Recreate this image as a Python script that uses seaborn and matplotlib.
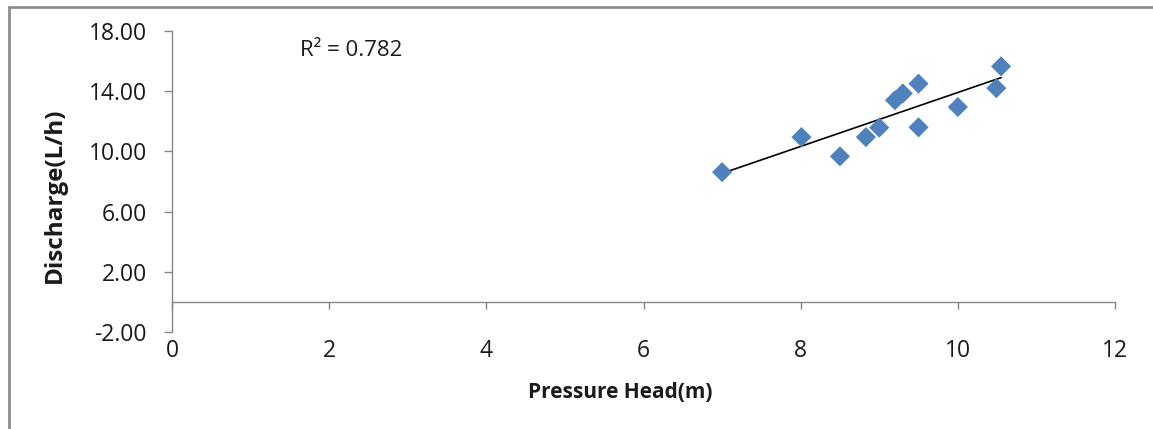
import numpy as np
import pandas as pd
import matplotlib
matplotlib.use("Agg")
import matplotlib.pyplot as plt
from matplotlib.lines import Line2D
import seaborn as sns

# ---- data ----
pressure_head = [7.00, 8.01, 8.50, 8.83, 9.00, 9.20, 9.30, 9.50, 9.50, 10.00, 10.49, 10.55]
discharge = [8.62, 10.95, 9.67, 10.95, 11.58, 13.40, 13.85, 14.50, 11.60, 12.95, 14.20, 15.65]
trend_x = [7.00, 10.55]
trend_y = [8.54, 14.90]
r2_label = "R² = 0.782"
x_ticks = [0, 2, 4, 6, 8, 10, 12]
y_ticks = [-2, 2, 6, 10, 14, 18]
x_label = "Pressure Head(m)"
y_label = "Discharge(L/h)"

df = pd.DataFrame({"x": pressure_head, "y": discharge})
tdf = pd.DataFrame({"x": trend_x, "y": trend_y})

sns.set_theme(style="white")
plt.rcParams["font.family"] = ["Open Sans", "DejaVu Sans"]

W, H = 1153, 429
fig = plt.figure(figsize=(W / 100, H / 100), dpi=100)
L, R, T, B = 172, 1115, 31, 332
ax = fig.add_axes([L / W, 1 - B / H, (R - L) / W, (B - T) / H])

sns.scatterplot(data=df, x="x", y="y", ax=ax, marker="D", s=105,
                color="#4F81BD", edgecolor="none", linewidth=0, zorder=3)
sns.lineplot(data=tdf, x="x", y="y", ax=ax, color="black", linewidth=1.2, zorder=2)

ax.set_xlim(0, 12)
ax.set_ylim(-2, 18)
ax.set_xticks(x_ticks)
ax.set_yticks(y_ticks)
ax.set_xticklabels([str(v) for v in x_ticks])
ax.set_yticklabels([f"{v:.2f}" for v in y_ticks])

grey = "#868686"
for s in ["top", "right"]:
    ax.spines[s].set_visible(False)
ax.spines["left"].set_color(grey)
ax.spines["left"].set_linewidth(1.0)
ax.spines["bottom"].set_color(grey)
ax.spines["bottom"].set_linewidth(1.0)
ax.spines["bottom"].set_position(("data", 0))

ax.tick_params(axis="x", direction="out", length=5, width=1, color=grey,
               pad=22, labelsize=16.5, labelcolor="#1a1a1a", bottom=True)
ax.tick_params(axis="y", direction="out", length=6, width=1, color=grey,
               pad=12, labelsize=16.5, labelcolor="#1a1a1a", left=True)

ax.set_xlabel(x_label, fontsize=15, fontweight="bold", color="#1a1a1a")
ax.set_ylabel(y_label, fontsize=17.5, fontweight="bold", color="#1a1a1a")
ax.xaxis.set_label_coords((620 - L) / (R - L), (B - 392) / (B - T))
ax.xaxis.label.set_va("center")
ax.xaxis.label.set_ha("center")
ax.yaxis.set_label_coords((55 - L) / (R - L), (B - 195) / (B - T))
ax.yaxis.label.set_va("center")
ax.yaxis.label.set_ha("center")

ax.text((300 - L) / (R - L), (B - 50) / (B - T), r2_label, transform=ax.transAxes,
        fontsize=16, color="#1a1a1a", ha="left", va="center")

# chart-area frame (left and top edges visible in the reference)
fig.add_artist(Line2D([9 / W, 9 / W], [0, 1 - 6.5 / H], transform=fig.transFigure,
                      color="#8c8c8c", linewidth=2))
fig.add_artist(Line2D([9 / W, 1], [1 - 6.5 / H, 1 - 6.5 / H], transform=fig.transFigure,
                      color="#8c8c8c", linewidth=2))

fig.savefig("out.png", dpi=100)
